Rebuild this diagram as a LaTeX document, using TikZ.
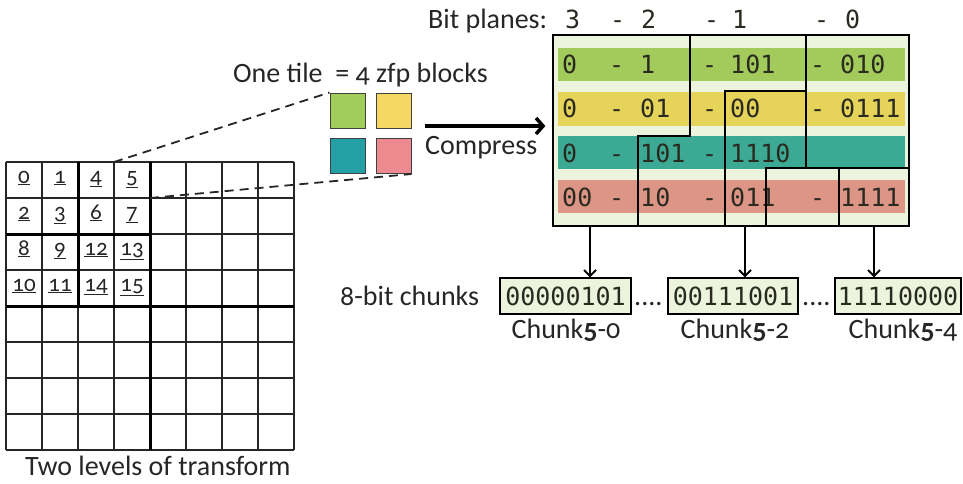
\documentclass[tikz,border=0pt]{standalone}
\usepackage{fontspec}
\setmainfont{Carlito}[Numbers=OldStyle]
\newfontfamily\bitfont{DejaVu Sans Mono}
\usetikzlibrary{arrows.meta}
\definecolor{tgreen}{HTML}{A1CD5C}
\definecolor{tyellow}{HTML}{F5D763}
\definecolor{tteal}{HTML}{22A0A3}
\definecolor{tpink}{HTML}{ED8A90}
\definecolor{panelbg}{HTML}{ECF4DE}
\definecolor{rgreen}{HTML}{A2CB5B}
\definecolor{ryellow}{HTML}{E6D45A}
\definecolor{rteal}{HTML}{3CA994}
\definecolor{rpink}{HTML}{DD9686}
\definecolor{txtc}{HTML}{262626}
\definecolor{bitc}{HTML}{2A2A20}
\begin{document}
\begin{tikzpicture}[x=1pt,y=-1pt,
  txt/.style={inner sep=0pt, anchor=base west, text=txtc, font=\fontsize{28}{32}\selectfont},
  bits/.style={inner sep=0pt, anchor=base west, text=bitc, font=\bitfont\fontsize{25}{30}\selectfont},
  num/.style={inner sep=0pt, anchor=base, text=txtc, font=\fontsize{23}{26}\selectfont},
  gridline/.style={line width=1.1pt, black!85},
  thickline/.style={line width=3pt, black},
  sq/.style={draw=black!75, line width=1pt, minimum width=35pt, minimum height=35pt, inner sep=0pt},
  dashline/.style={line width=1.8pt, dash pattern=on 9pt off 6pt, black!85},
  stair/.style={line width=1.6pt, black},
  panelbox/.style={draw=black, line width=1.3pt, fill=panelbg, minimum width=356pt, minimum height=191pt, inner sep=0pt},
  chunkbox/.style={draw=black, line width=1.2pt, fill=panelbg, minimum height=36pt, inner sep=0pt, text=bitc, font=\bitfont\fontsize{25}{30}\selectfont},
  bigarrow/.style={line width=3.5pt, -{Straight Barb[length=7pt,width=16pt]}},
  downarrow/.style={line width=2pt, -{Straight Barb[length=6pt,width=12pt]}}
]
\useasboundingbox (0,0) rectangle (963,483);

% ---- grid ----
\foreach \i in {0,...,8} {
  \draw[gridline] (6+36*\i,162) -- (6+36*\i,450);
  \draw[gridline] (6,162+36*\i) -- (294,162+36*\i);
}
\draw[thickline] (150,162) -- (150,450);
\draw[thickline] (6,306) -- (294,306);
\draw[thickline] (78,162) -- (78,306);
\draw[thickline] (6,234) -- (150,234);
\foreach \c/\r/\t in {0/0/0,1/0/1,2/0/4,3/0/5,0/1/2,1/1/3,2/1/6,3/1/7,0/2/8,1/2/9,2/2/12,3/2/13,0/3/10,1/3/11,2/3/14,3/3/15}
  \node[num] (n\t) at (24+36*\c,183+36*\r) {\underline{\t}};
\node[txt] (cap) at (25,475) {Two levels of transform};

% ---- tile ----
\node[txt] (onetile) at (233,82) {One tile\ \ = 4 zfp blocks};
\node[sq, fill=tgreen]  (sqa) at (347.5,110.5) {};
\node[sq, fill=tyellow] (sqb) at (393.5,110.5) {};
\node[sq, fill=tteal]   (sqc) at (347.5,156) {};
\node[sq, fill=tpink]   (sqd) at (393.5,156) {};
\coordinate (g1) at (114,162);
\coordinate (g2) at (150,198);
\draw[dashline] (g1) -- (sqa.north west);
\draw[dashline] (g2) -- (sqd.south east);

% ---- panel ----
\node[panelbox] (panel) at (731,130.5) {};
\fill[rgreen]  (558,48)  rectangle (905,81);
\fill[ryellow] (558,92)  rectangle (905,126);
\fill[rteal]   (558,136) rectangle (905,169);
\fill[rpink]   (558,180) rectangle (905,213);

\coordinate (cs) at (425,126);
\draw[bigarrow, shorten >=7pt] (cs) -- (cs -| panel.west);
\node[txt] (compress) at (425,154) {Compress};

\node[txt] (bp) at (428,28) {Bit planes:};
\node[bits] (h3) at (565,28) {3};
\node[bits] (h3d) at (610,28) {-};
\node[bits] (h2) at (641,28) {2};
\node[bits] (h2d) at (704,28) {-};
\node[bits] (h1) at (732,28) {1};
\node[bits] (h1d) at (814,28) {-};
\node[bits] (h0) at (845,28) {0};

% row 1
\node[bits] (r1a) at (562,73) {0};
\node[bits] (r1b) at (609,73) {-};
\node[bits] (r1c) at (640,73) {1};
\node[bits] (r1d) at (702,73) {-};
\node[bits] (r1e) at (730,73) {101};
\node[bits] (r1f) at (810,73) {-};
\node[bits] (r1g) at (840,73) {010};
% row 2
\node[bits] (r2a) at (562,117) {0};
\node[bits] (r2b) at (609,117) {-};
\node[bits] (r2c) at (640,117) {01};
\node[bits] (r2d) at (702,117) {-};
\node[bits] (r2e) at (730,117) {00};
\node[bits] (r2f) at (810,117) {-};
\node[bits] (r2g) at (840,117) {0111};
% row 3
\node[bits] (r3a) at (562,162) {0};
\node[bits] (r3b) at (609,162) {-};
\node[bits] (r3c) at (640,162) {101};
\node[bits] (r3d) at (702,162) {-};
\node[bits] (r3e) at (730,162) {1110};
% row 4
\node[bits] (r4a) at (562,206) {00};
\node[bits] (r4b) at (609,206) {-};
\node[bits] (r4c) at (640,206) {10};
\node[bits] (r4d) at (702,206) {-};
\node[bits] (r4e) at (730,206) {011};
\node[bits] (r4f) at (810,206) {-};
\node[bits] (r4g) at (840,206) {1111};

% staircase separators
\draw[stair] (690,35) -- (690,136) -- (638,136) -- (638,226);
\draw[stair] (806,35) -- (806,168);
\draw[stair] (766,226) -- (766,168) -- (909,168);
\draw[stair] (725,226) -- (725,91) -- (806,91);
\draw[stair] (839,168) -- (839,226);

% ---- chunks ----
\node[txt] (bc) at (340,305) {8-bit chunks};
\node[chunkbox, minimum width=131pt] (c1) at (565.5,296) {00000101};
\node[chunkbox, minimum width=130pt] (c2) at (733,296) {00111001};
\node[chunkbox, minimum width=126pt] (c3) at (898,296) {11110000};
\node[txt] (d1) at (634,305) {....};
\node[txt] (d2) at (802,305) {....};
\node[txt, anchor=base] (l1) at (566,338) {Chunk\textbf{5}-0};
\node[txt, anchor=base] (l2) at (735,338) {Chunk\textbf{5}-2};
\node[txt, anchor=base] (l3) at (903,338) {Chunk\textbf{5}-4};

\coordinate (p1) at (590,226);
\coordinate (p2) at (745,226);
\coordinate (p3) at (874,226);
\draw[downarrow] (p1) -- (p1 |- c1.north);
\draw[downarrow] (p2) -- (p2 |- c2.north);
\draw[downarrow] (p3) -- (p3 |- c3.north);
\end{tikzpicture}
\end{document}
